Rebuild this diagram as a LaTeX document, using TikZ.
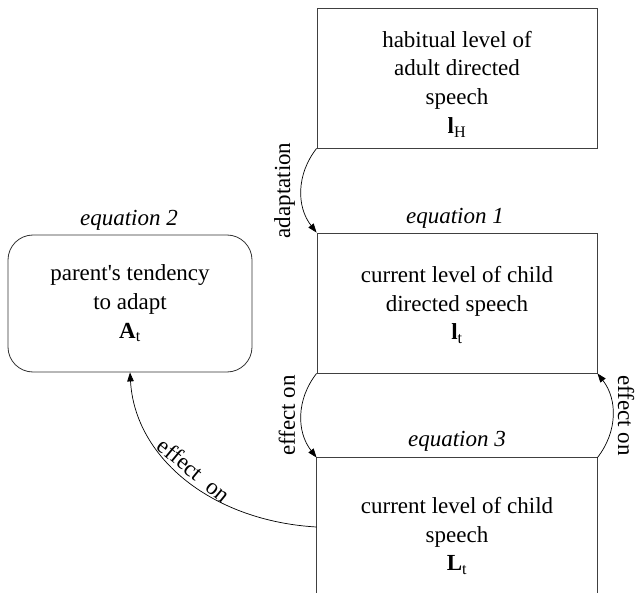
\documentclass[tikz,border=0pt]{standalone}
\usepackage{fontspec}
\setmainfont{Liberation Serif}
\usetikzlibrary{arrows.meta}
\begin{document}
\begin{tikzpicture}[x=1pt,y=-1pt,
  txt/.style={font=\fontsize{23}{28.7}\selectfont},
  ctxt/.style={txt, align=center, inner sep=0pt},
  box/.style={draw=black!75, line width=0.9pt, minimum width=280pt, minimum height=140pt, inner sep=0pt},
  rbox/.style={draw=black!80, line width=0.8pt, rounded corners=25pt, minimum width=244pt, minimum height=137pt, inner sep=0pt},
  eq/.style={font=\fontsize{23}{28.7}\selectfont\itshape},
  arr/.style={-{Triangle[length=9pt,width=6.5pt]}, line width=0.7pt, black},
  vlab/.style={txt, midway, anchor=south, inner sep=6pt}
]
\useasboundingbox (0,0) rectangle (639,593);
\coordinate (bot) at (0,593);

\node[box] (hab) at (457,78) {};
\node[ctxt] (habt) at ([yshift=-6pt]hab.center) {habitual level of\\adult directed\\speech\\\textbf{l}\textsubscript{H}};

\node[box] (cds) at (457,303) {};
\node[ctxt] (cdst) at ([yshift=-2pt]cds.center) {current level of child\\directed speech\\\textbf{l}\textsubscript{t}};

\node[box, draw=none, minimum height=152pt] (cs) at (457,534) {};
\node[ctxt] (cst) at ([yshift=-2pt]cs.center) {current level of child\\speech\\\textbf{L}\textsubscript{t}};
\draw[draw=black!75, line width=0.9pt] (cs.north west |- bot) -- (cs.north west) -- (cs.north east) -- (cs.north east |- bot);

\node[rbox] (par) at (130,303.5) {};
\node[ctxt] (part) at (par.center) {parent\textquotesingle s tendency\\to adapt\\\textbf{A}\textsubscript{t}};

\node[eq] (e2) at (129,220) {equation 2};
\node[eq] (e1) at (455,218) {equation 1};
\node[eq] (e3) at (457,441) {equation 3};

\draw[arr] (hab.south west) to[bend right=38] node[vlab, rotate=90] {adaptation} (cds.north west);
\draw[arr] (cds.south west) to[bend right=38] node[vlab, rotate=90] {effect on} (cs.north west);
\draw[arr] (cs.north east) to[bend right=38] node[vlab, rotate=-90, inner sep=5pt] {effect on} (cds.south east);

\draw[arr] ([yshift=7pt]cs.west) .. controls +(-104,-6) and +(5,86) .. node[txt, pos=0.5, sloped, above, inner sep=4pt] {effect\hspace{0.5em}on} (par.south);
\end{tikzpicture}
\end{document}
